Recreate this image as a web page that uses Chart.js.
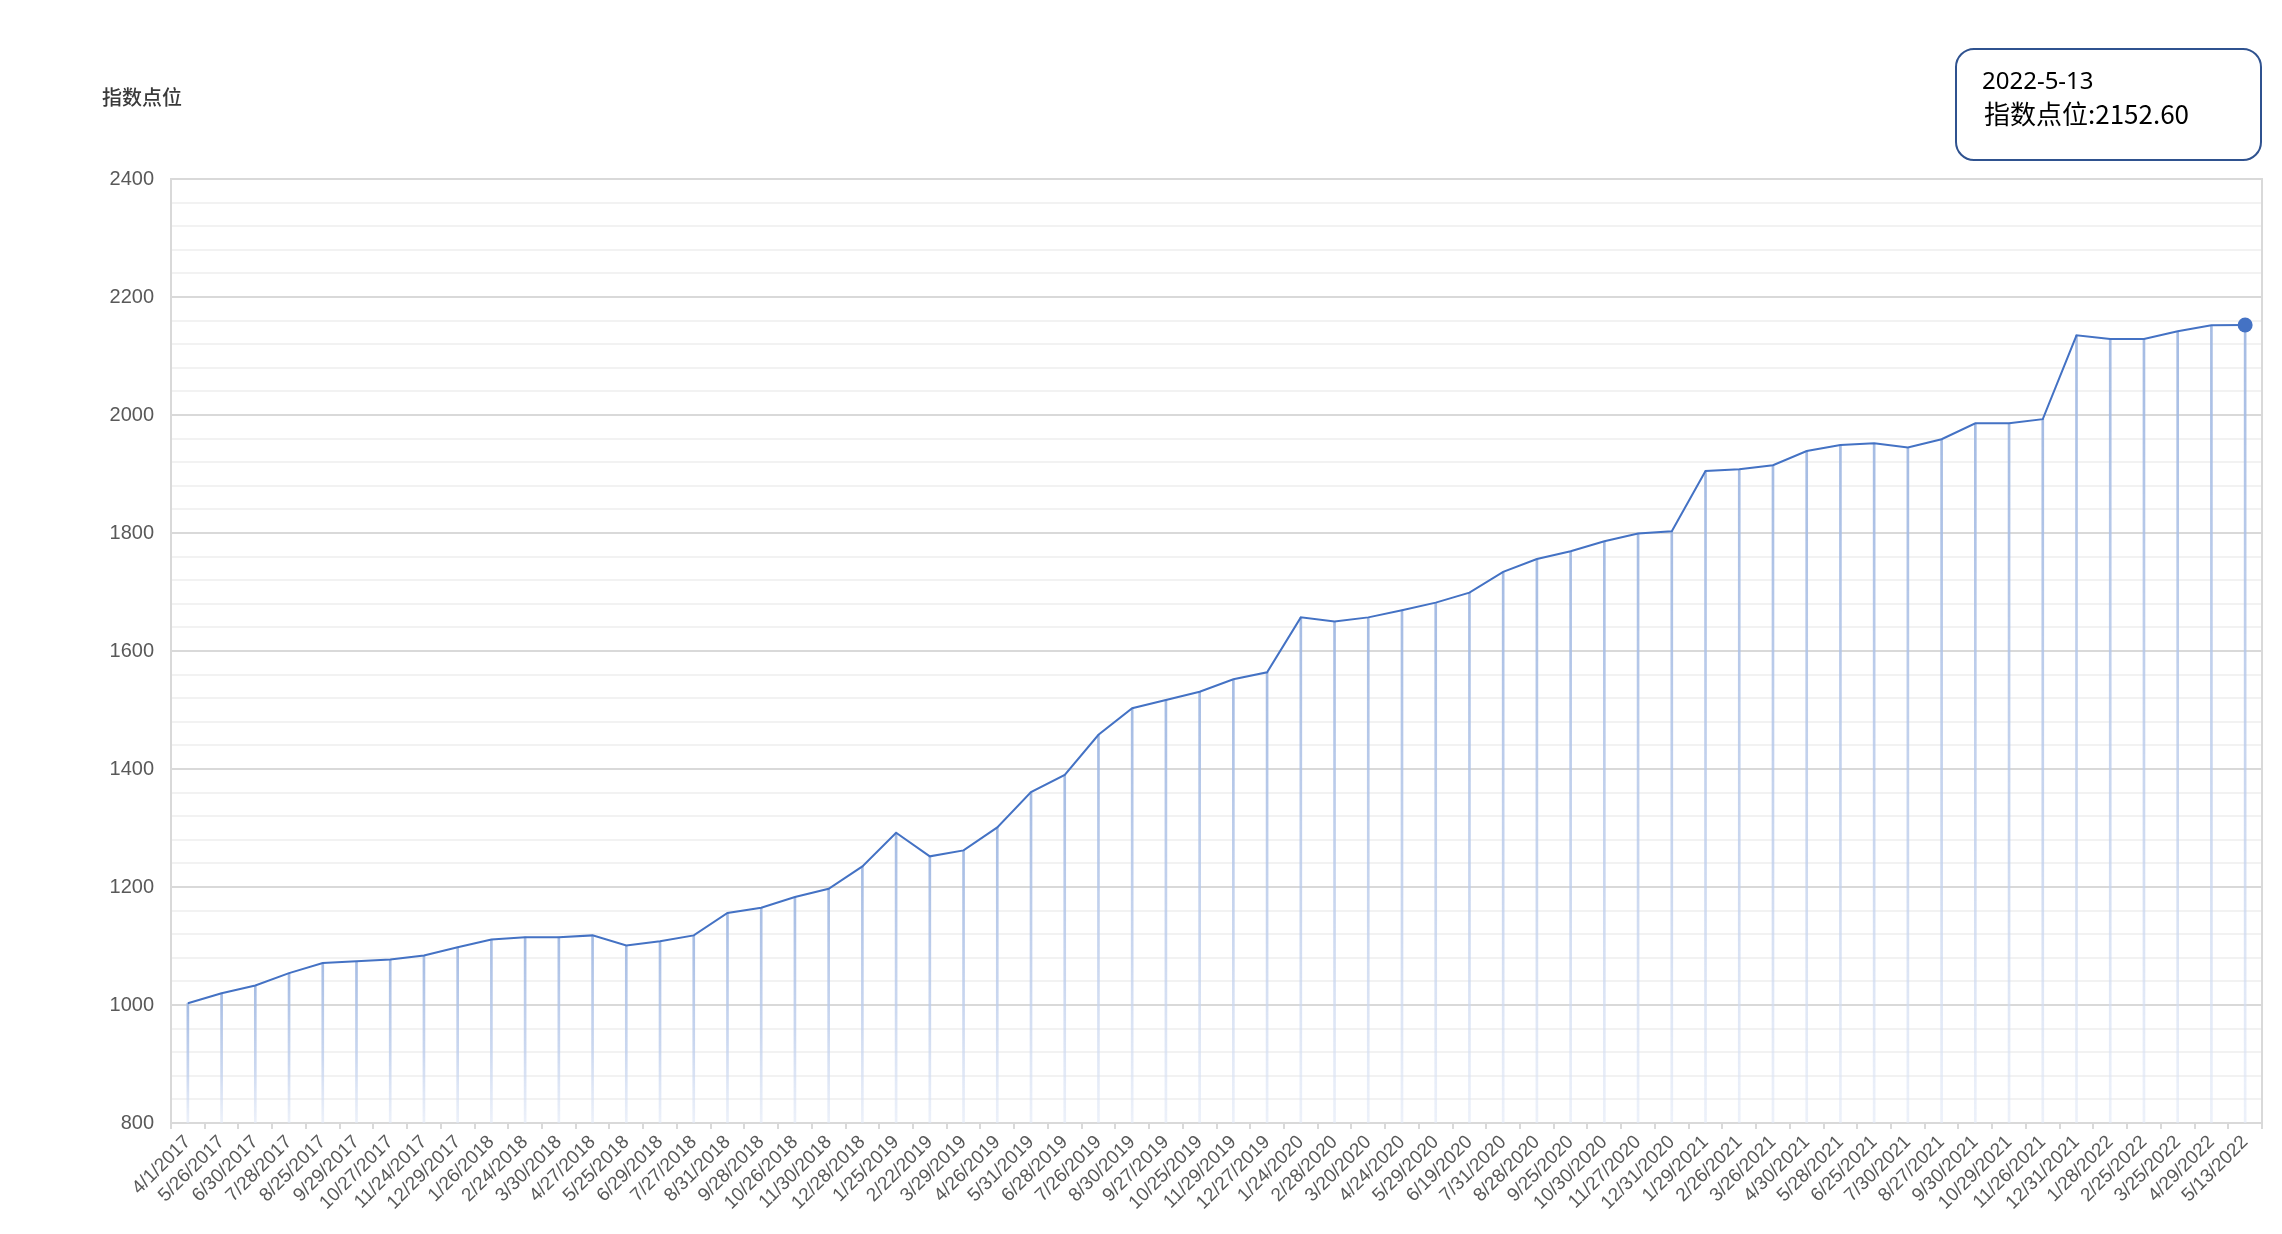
<!DOCTYPE html>
<html>
<head>
<meta charset="utf-8">
<title>指数点位</title>
<script src="https://cdn.jsdelivr.net/npm/chart.js@4.4.1/dist/chart.umd.min.js"></script>
<style>
  html, body { margin: 0; padding: 0; background: #fff; }
  #wrap { width: 2282px; height: 1234px; }
</style>
</head>
<body>
<div id="wrap"><canvas id="myChart" width="2282" height="1234"></canvas></div>
<script>
var dates = ["4/1/2017","5/26/2017","6/30/2017","7/28/2017","8/25/2017","9/29/2017","10/27/2017","11/24/2017","12/29/2017",
  "1/26/2018","2/24/2018","3/30/2018","4/27/2018","5/25/2018","6/29/2018","7/27/2018","8/31/2018","9/28/2018","10/26/2018","11/30/2018","12/28/2018",
  "1/25/2019","2/22/2019","3/29/2019","4/26/2019","5/31/2019","6/28/2019","7/26/2019","8/30/2019","9/27/2019","10/25/2019","11/29/2019","12/27/2019",
  "1/24/2020","2/28/2020","3/20/2020","4/24/2020","5/29/2020","6/19/2020","7/31/2020","8/28/2020","9/25/2020","10/30/2020","11/27/2020","12/31/2020",
  "1/29/2021","2/26/2021","3/26/2021","4/30/2021","5/28/2021","6/25/2021","7/30/2021","8/27/2021","9/30/2021","10/29/2021","11/26/2021","12/31/2021",
  "1/28/2022","2/25/2022","3/25/2022","4/29/2022","5/13/2022"];

var indexPoints = [1003, 1020, 1033, 1054, 1071, 1074, 1077, 1084, 1098,
  1111, 1115, 1115, 1118, 1101, 1108, 1118, 1156, 1165, 1183, 1197, 1235,
  1292, 1252, 1262, 1301, 1361, 1390, 1458, 1503, 1517, 1531, 1552, 1564,
  1657, 1650, 1657, 1669, 1682, 1699, 1734, 1756, 1769, 1786, 1799, 1803,
  1905, 1908, 1915, 1939, 1949, 1952, 1945, 1959, 1986, 1986, 1993, 2135,
  2129, 2129, 2142, 2152, 2152.60];

var yTicks = [800, 1000, 1200, 1400, 1600, 1800, 2000, 2200, 2400];
var seriesName = "指数点位";

var lastIdx = indexPoints.length - 1;

// vertical drop line from each point down to the axis, fading out
var dropColor = function(c) {
  var chart = c.chart;
  var area = chart.chartArea;
  if (!area || c.parsed == null) return "rgba(170,191,228,0.8)";
  var top = chart.scales.y.getPixelForValue(c.parsed.y);
  var g = chart.ctx.createLinearGradient(0, top, 0, area.bottom);
  g.addColorStop(0, "rgba(160,184,226,0.95)");
  g.addColorStop(0.6, "rgba(190,206,236,0.8)");
  g.addColorStop(1, "rgba(225,232,246,0.6)");
  return g;
};

var extras = {
  id: "extras",
  afterDraw: function(chart) {
    var ctx = chart.ctx;
    ctx.save();
    // unit label above the y axis
    ctx.fillStyle = "#3a3a3a";
    ctx.font = "500 20px 'Noto Sans CJK SC', 'Noto Sans', sans-serif";
    ctx.textBaseline = "middle";
    ctx.textAlign = "left";
    ctx.fillText(seriesName, 102, 97);

    // info box for the last point
    var d = dates[lastIdx].split("/");
    var line1 = d[2] + "-" + d[0] + "-" + d[1];
    var line2 = seriesName + ":" + indexPoints[lastIdx].toFixed(2);
    var bx = 1956, by = 49, bw = 305, bh = 111, r = 18;
    ctx.beginPath();
    ctx.moveTo(bx + r, by);
    ctx.arcTo(bx + bw, by, bx + bw, by + bh, r);
    ctx.arcTo(bx + bw, by + bh, bx, by + bh, r);
    ctx.arcTo(bx, by + bh, bx, by, r);
    ctx.arcTo(bx, by, bx + bw, by, r);
    ctx.closePath();
    ctx.fillStyle = "#fff";
    ctx.fill();
    ctx.lineWidth = 2;
    ctx.strokeStyle = "#2f528f";
    ctx.stroke();
    ctx.fillStyle = "#000";
    ctx.font = "24px 'Noto Sans', 'Noto Sans CJK SC', sans-serif";
    ctx.textBaseline = "alphabetic";
    ctx.fillText(line1, 1982, 89);
    ctx.font = "26px 'Noto Sans CJK SC', 'Noto Sans', sans-serif";
    ctx.fillText(line2, 1984, 124);
    ctx.restore();
  }
};

var ctx = document.getElementById("myChart").getContext("2d");
var myChart = new Chart(ctx, {
  type: "bar",
  data: {
    labels: dates,
    datasets: [
      {
        type: "line",
        label: seriesName,
        data: indexPoints,
        borderColor: "#4472c4",
        backgroundColor: "#4472c4",
        borderWidth: 2,
        tension: 0,
        pointRadius: function(c) { return c.dataIndex === lastIdx ? 7.5 : 0; },
        pointBorderWidth: 0,
        order: 0
      },
      {
        label: "drop",
        data: indexPoints,
        backgroundColor: dropColor,
        barThickness: 2,
        borderWidth: 0,
        order: 1
      }
    ]
  },
  options: {
    responsive: false,
    devicePixelRatio: 1,
    animation: false,
    events: [],
    layout: { padding: { top: 179, right: 20, left: 0, bottom: 0 } },
    plugins: {
      legend: { display: false },
      tooltip: { enabled: false }
    },
    scales: {
      x: {
        offset: true,
        grid: { display: true, drawOnChartArea: false, drawTicks: true, tickLength: 6, offset: true, color: "#d9d9d9", lineWidth: 2 },
        border: { color: "#d9d9d9", width: 2 },
        ticks: {
          autoSkip: false,
          minRotation: 45,
          maxRotation: 45,
          padding: 2,
          color: "#595959",
          font: { family: "'Liberation Sans', Arial, sans-serif", size: 19 }
        },
        afterFit: function(scale) { scale.height = 111; }
      },
      y: {
        min: yTicks[0],
        max: yTicks[yTicks.length - 1],
        grid: {
          drawTicks: false,
          color: function(c) { return c.tick && c.tick.value % 200 === 0 ? "#d9d9d9" : "#f2f2f2"; },
          lineWidth: 2
        },
        border: { color: "#d9d9d9", width: 2 },
        ticks: {
          stepSize: 40,
          maxTicksLimit: 100,
          autoSkip: false,
          padding: 17,
          color: "#595959",
          font: { family: "'Liberation Sans', Arial, sans-serif", size: 20 },
          callback: function(v) { return yTicks.indexOf(v) >= 0 ? String(v) : ""; }
        },
        afterFit: function(scale) { scale.width = 171; }
      },
      y2: {
        position: "right",
        min: yTicks[0],
        max: yTicks[yTicks.length - 1],
        grid: { drawOnChartArea: false, drawTicks: false },
        border: { color: "#d9d9d9", width: 2 },
        ticks: { display: false },
        afterFit: function(scale) { scale.width = 0; }
      }
    }
  },
  plugins: [extras]
});
</script>
</body>
</html>
